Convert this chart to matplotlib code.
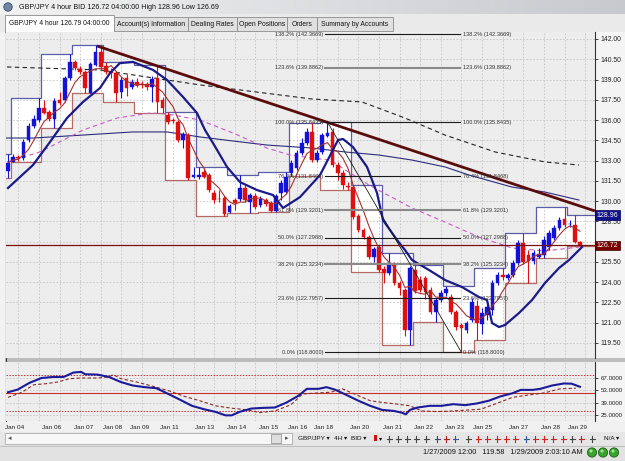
import matplotlib
matplotlib.use("Agg")
import matplotlib.pyplot as plt
import numpy as np
import pandas as pd
from matplotlib.patches import Rectangle, Circle

W, H = 625, 461
plt.rcParams['font.family'] = ['Liberation Sans', 'DejaVu Sans']

# ---------------- data ----------------
opens = [132.23, 132.90, 133.27, 133.19, 134.52, 135.56, 136.00, 136.89, 136.60, 136.08,
         137.48, 137.48, 139.11, 140.30, 139.78, 139.56, 138.00, 140.08, 141.04, 140.00,
         139.56, 139.48, 138.08, 139.11, 138.45, 138.82, 138.67, 138.67, 138.45, 139.11,
         137.48, 136.37, 136.00, 135.86, 134.52, 134.89, 131.79, 131.79, 132.16, 131.93,
         130.60, 130.16, 130.23, 129.20, 130.08, 130.16, 130.97, 129.93, 130.38, 129.71,
         130.08, 129.86, 129.25, 130.60, 130.67, 132.08, 132.45, 133.56, 134.30, 135.12,
         133.04, 133.64, 134.82, 135.12, 132.67, 132.08, 131.12, 131.05, 128.90, 127.86,
         127.34, 125.86, 126.60, 124.97, 124.68, 125.35, 123.94, 123.42, 120.46, 124.90,
         124.16, 124.31, 123.42, 121.79, 122.68, 123.20, 122.90, 121.79, 120.83, 120.46,
         121.20, 122.24, 120.90, 121.57, 121.94, 123.94, 124.53, 124.31, 124.53, 125.42,
         126.90, 126.01, 125.57, 125.86, 126.01, 126.60, 127.27, 128.01, 128.68, 128.27,
         128.23, 126.97]
closes = [132.82, 133.27, 133.19, 134.38, 135.56, 136.08, 136.89, 136.52, 136.08, 137.41,
          137.26, 139.11, 140.30, 139.85, 139.56, 138.37, 140.15, 141.04, 139.93, 139.56,
          139.48, 138.00, 138.97, 138.37, 138.82, 138.60, 138.60, 138.45, 139.04, 137.34,
          136.89, 135.86, 135.93, 134.52, 134.97, 131.71, 131.93, 131.93, 131.79, 130.82,
          130.08, 130.12, 129.05, 129.64, 129.86, 130.97, 130.08, 130.45, 129.56, 130.16,
          129.79, 129.25, 130.38, 131.34, 131.79, 132.82, 133.56, 134.30, 135.12, 133.04,
          133.56, 134.89, 135.04, 132.67, 132.08, 131.19, 131.08, 128.82, 127.86, 127.34,
          125.86, 126.46, 124.90, 124.68, 125.42, 123.94, 123.57, 120.46, 125.05, 123.35,
          123.42, 123.27, 121.79, 122.68, 123.20, 123.50, 121.79, 120.68, 120.61, 120.98,
          122.53, 120.98, 121.72, 122.16, 123.94, 124.53, 124.38, 124.53, 125.42, 126.90,
          125.49, 125.57, 126.16, 126.09, 127.12, 127.64, 128.01, 128.60, 128.23, 128.34,
          126.97, 126.72]
highs = [133.50, 133.49, 133.41, 134.60, 135.78, 136.37, 137.60, 137.48, 136.75, 137.63,
         138.08, 139.26, 140.89, 140.45, 140.00, 139.71, 140.30, 141.56, 141.33, 140.30,
         139.85, 139.63, 139.19, 139.41, 139.04, 139.11, 138.89, 138.82, 139.26, 140.10,
         137.71, 136.60, 136.15, 136.00, 135.12, 135.04, 132.53, 132.53, 132.45, 132.08,
         130.82, 130.82, 130.38, 129.79, 130.23, 131.93, 131.19, 130.60, 130.60, 130.38,
         130.23, 130.00, 130.53, 131.56, 132.15, 133.04, 133.78, 134.67, 135.41, 135.78,
         133.78, 135.04, 135.84, 135.41, 132.90, 132.30, 131.42, 131.19, 129.05, 128.01,
         127.49, 126.60, 126.75, 125.20, 126.16, 125.49, 124.09, 123.57, 125.20, 125.27,
         124.46, 124.46, 123.64, 122.83, 123.42, 123.72, 123.12, 121.94, 120.98, 121.13,
         122.83, 122.68, 122.09, 122.38, 124.16, 124.75, 125.05, 124.68, 125.64, 127.12,
         127.64, 126.38, 126.38, 126.53, 127.42, 127.86, 128.23, 128.82, 129.57, 128.60,
         128.96, 127.05]
lows = [131.70, 132.90, 132.97, 133.04, 134.38, 135.41, 135.86, 136.45, 135.93, 135.41,
        137.11, 137.34, 138.97, 139.71, 139.41, 138.00, 138.00, 140.00, 139.78, 139.41,
        139.11, 137.34, 137.63, 137.78, 138.30, 138.45, 138.37, 138.22, 137.34, 136.52,
        136.52, 135.71, 135.78, 134.38, 133.93, 131.56, 131.71, 131.64, 131.71, 130.67,
        129.86, 129.93, 128.90, 129.12, 129.34, 130.00, 129.93, 129.12, 129.42, 129.56,
        129.64, 129.20, 129.20, 130.08, 130.53, 131.86, 132.30, 133.41, 134.15, 132.90,
        132.90, 133.49, 134.75, 132.53, 131.56, 130.90, 130.82, 128.68, 127.71, 127.20,
        125.72, 125.49, 124.75, 123.94, 124.53, 123.79, 123.05, 120.02, 119.35, 123.20,
        123.27, 122.75, 121.64, 121.05, 122.53, 122.98, 121.64, 120.46, 118.80, 120.24,
        121.05, 119.72, 120.16, 121.20, 121.57, 123.79, 124.16, 124.16, 124.38, 125.27,
        125.35, 123.94, 125.35, 125.79, 125.79, 126.38, 127.12, 127.86, 128.08, 128.08,
        126.90, 126.69]

# first candle of every trading day (daily high/low boxes)
day_starts = [0, 1, 7, 13, 19, 25, 31, 37, 43, 49, 55, 61, 67, 73, 79, 85, 91, 97, 103, 109]

# moving averages (candle index, price)
ma_blue_idx = [0, 4.85, 8.15, 11.45, 14.55, 17.85, 19.79, 21.73, 24.26, 28.14, 30.86, 33.96,
               36.68, 38.23, 39.78, 42.5, 45.02, 48.32, 51.43, 53.37, 56.67, 60.55, 64.04,
               65.01, 66.95, 69.67, 71.61, 72.77, 75.49, 77.04, 78.4, 81.7, 84.81, 88.1,
               91.4, 92.96, 93.93, 95.28, 96.45, 99.17, 101.69, 104.21, 106.93, 108.87, 111.39]
ma_blue_val = [130.97, 132.67, 134.38, 136.15, 137.34, 138.37, 139.48, 140.22, 140.30, 139.71,
               138.97, 137.71, 136.52, 135.26, 134.30, 132.53, 131.41, 130.82, 130.45, 129.49,
               130.30, 131.93, 134.52, 134.60, 134.00, 132.53, 130.60, 128.60, 127.12, 126.38,
               125.64, 124.90, 124.16, 123.64, 122.90, 122.68, 120.98, 120.68, 120.83, 121.72,
               122.68, 123.94, 125.05, 125.64, 126.60]
ma_navy_idx = [-0.58, 4.85, 14.55, 24.26, 30.86, 37.26, 43.66, 50.26, 58.99, 65.4, 72.0,
               78.4, 84.81, 89.46, 97.81, 104.21, 110.81]
ma_navy_val = [134.67, 134.67, 134.89, 135.12, 135.12, 134.75, 134.45, 134.15, 133.93, 133.64,
               133.41, 133.04, 132.53, 131.93, 131.04, 130.67, 130.08]
ma_pink_idx = [-0.19, 6.21, 14.55, 21.15, 27.56, 30.86, 37.26, 43.66, 50.26, 54.73, 58.99,
               62.49, 70.06, 78.4, 84.81, 91.4, 97.81, 104.21, 110.81]
ma_pink_val = [132.90, 133.64, 135.26, 136.15, 136.52, 136.45, 136.00, 135.04, 133.93, 133.41,
               133.19, 133.04, 131.19, 129.49, 128.45, 127.34, 126.53, 126.31, 126.60]
ma_black_idx = [-0.19, 17.85, 37.26, 58.99, 68.7, 77.04, 84.81, 94.51, 104.21, 110.81]
ma_black_val = [139.93, 139.71, 138.60, 137.56, 137.34, 136.15, 134.89, 133.64, 132.90, 132.67]

trend_idx = [17.3, 113.9]
trend_val = [141.48, 129.27]

fib_pct = ['138.2%', '123.6%', '100.0%', '76.4%', '61.8%', '50.0%', '38.2%', '23.6%', '0.0%']
fib_val = [142.3669, 139.8862, 135.8435, 131.8468, 129.3201, 127.2988, 125.3234, 122.7957, 118.8000]

bid_price = 126.72
day_high = 128.96
price_ticks = np.arange(119.5, 142.01, 1.5)

# oscillator (lower pane)
osc_idx = [0, 1.9, 4.2, 6.5, 8.8, 10.8, 12.7, 14.2, 15.0, 17.3, 19.6, 21.9, 24.2, 26.5, 28.8,
           31.1, 33.4, 35.7, 38.0, 40.3, 42.2, 43.4, 44.9, 47.2, 49.5, 51.8, 54.1, 56.4, 58.0,
           60.3, 61.8, 63.4, 65.7, 68.0, 70.3, 72.6, 74.9, 76.4, 77.2, 78.0, 79.5, 81.8, 84.1,
           86.4, 88.7, 91.0, 93.3, 95.6, 97.9, 99.5, 101.8, 103.3, 105.6, 107.9, 109.4, 111.0]
osc_val = [50.8, 53.9, 61.6, 67.0, 68.2, 68.2, 73.2, 73.9, 71.2, 70.9, 68.2, 62.4, 58.5, 56.6,
           55.4, 48.9, 42.3, 35.4, 31.6, 28.5, 24.6, 24.6, 28.5, 32.3, 33.1, 33.5, 39.3, 47.0,
           54.7, 54.7, 56.6, 53.9, 47.7, 41.2, 35.4, 30.8, 29.6, 27.7, 25.8, 30.8, 33.5, 35.4,
           35.4, 37.3, 36.2, 38.1, 41.2, 46.2, 49.7, 53.5, 53.5, 54.7, 58.5, 60.8, 60.5, 57.0]
sig_idx = [0, 2.7, 5.0, 7.3, 9.6, 11.9, 14.2, 17.3, 19.6, 20.4, 21.9, 25.0, 28.0, 31.1, 34.2,
           37.2, 40.3, 43.4, 46.5, 48.8, 51.8, 54.9, 57.2, 60.3, 62.6, 64.9, 67.2, 70.3, 72.6,
           75.6, 78.0, 80.3, 83.3, 86.4, 89.5, 91.8, 94.8, 97.9, 101.0, 104.1, 107.1, 110.2]
sig_val = [45.0, 50.8, 59.3, 60.5, 62.4, 66.2, 67.0, 67.0, 68.2, 70.9, 66.2, 62.4, 57.8, 52.7,
           46.2, 41.2, 35.4, 32.7, 30.8, 27.7, 29.6, 36.6, 48.9, 50.1, 50.8, 54.7, 48.9, 41.2,
           39.3, 37.3, 35.4, 29.6, 28.9, 29.6, 30.8, 31.6, 38.1, 45.0, 47.7, 50.1, 54.7, 55.4]
osc_levels = [70, 50, 30]
osc_ticks = [25, 39, 53, 67]

date_labels = ['Jan 04', 'Jan 06', 'Jan 07', 'Jan 08', 'Jan 09', 'Jan 11', 'Jan 13', 'Jan 14',
               'Jan 15', 'Jan 16', 'Jan 18', 'Jan 20', 'Jan 21', 'Jan 22', 'Jan 23', 'Jan 25',
               'Jan 27', 'Jan 28', 'Jan 29']
date_pos = [1.2, 8.5, 14.7, 20.2, 25.6, 31.4, 38.2, 44.4, 50.5, 56.3, 61.3, 68.3, 74.7, 80.7,
            86.7, 92.0, 99.0, 105.2, 110.6]
grid_idx = [2, 6, 10, 14, 18, 22, 26, 32, 36, 40, 44, 48, 52, 56, 60, 64, 68, 72, 76, 80, 84,
            88, 92, 96, 100, 104, 108, 112]

# ---------------- figure ----------------
fig = plt.figure(figsize=(W / 100, H / 100), dpi=100)


def rect(x0, y0, x1, y1):
    return [x0 / W, 1 - y1 / H, (x1 - x0) / W, (y1 - y0) / H]


bg = fig.add_axes([0, 0, 1, 1])
bg.set_xlim(0, W)
bg.set_ylim(H, 0)
bg.axis('off')
bg.add_patch(Rectangle((0, 0), W, H, fc='#ececec', ec='none'))

# title bar
grad = np.linspace(0, 1, 200)[None, :]
bg.imshow(np.dstack([0.95 - 0.17 * grad, 0.95 - 0.16 * grad, 0.95 - 0.14 * grad]),
          extent=(0, W, 14, 0), aspect='auto', zorder=1)
bg.add_patch(Circle((8, 7), 4.2, fc='#6f86a8', ec='#3a4c66', lw=0.6, zorder=2))
bg.text(19, 7.5, 'GBP/JPY 4 hour BID 126.72 04:00:00 High 128.96 Low 126.69',
        fontsize=5.1, va='center', ha='left', color='#111111', zorder=3)

# tab row
bg.add_patch(Rectangle((0, 14), W, 18, fc='#eaeaea', ec='none', zorder=1))
tabs = [('Account(s) Information', 114, 188), ('Dealing Rates', 188, 237),
        ('Open Positions', 237, 287), ('Orders', 287, 317), ('Summary by Accounts', 317, 393)]
for name, x0, x1 in tabs:
    bg.add_patch(Rectangle((x0, 17), x1 - x0, 14.5, fc='#e0e0e0', ec='#8c8c8c', lw=0.6, zorder=2))
    bg.text((x0 + x1) / 2, 24.5, name, fontsize=4.9, ha='center', va='center', color='#111111', zorder=3)
bg.add_patch(Rectangle((5, 15), 109, 17, fc='white', ec='#8c8c8c', lw=0.6, zorder=2))
bg.text(9, 23.5, 'GBP/JPY 4 hour 126.79 04:00:00', fontsize=4.9, ha='left', va='center',
        color='#111111', zorder=3)

# left frame line and splitter
bg.add_patch(Rectangle((0, 32), 5, 390, fc='#f2f2f2', ec='none', zorder=1))
bg.plot([5.5, 5.5], [32, 421], color='#3c3c3c', lw=0.8, zorder=2)
bg.add_patch(Rectangle((5, 358), 620, 4, fc='#bdbdbd', ec='none', zorder=1))
bg.add_patch(Rectangle((595, 32), 30, 326, fc='#f4f4f4', ec='none', zorder=1))
bg.add_patch(Rectangle((595, 362), 30, 59, fc='#f4f4f4', ec='none', zorder=1))

# x-label row, toolbar, status bar
bg.add_patch(Rectangle((5, 421), 620, 11, fc='#f0f0f0', ec='none', zorder=1))
bg.add_patch(Rectangle((0, 432), W, 13, fc='#e6e6e6', ec='none', zorder=1))
bg.add_patch(Rectangle((5, 433), 287, 11, fc='#f7f7f7', ec='#a0a0a0', lw=0.5, zorder=2))
bg.text(10, 438.5, '◂', fontsize=5, ha='center', va='center', color='#555555', zorder=3)
bg.add_patch(Rectangle((271, 434), 10, 9, fc='#dedede', ec='#8a8a8a', lw=0.5, zorder=3))
bg.text(287, 438.5, '▸', fontsize=5, ha='center', va='center', color='#555555', zorder=3)
tool = [('GBP/JPY ▾', 298), ('4H ▾', 334), ('BID ▾', 351)]
for t, x in tool:
    bg.text(x, 438.5, t, fontsize=4.6, ha='left', va='center', color='#111111', zorder=3)
bg.add_patch(Rectangle((374, 434.5), 2.5, 6, fc='#d01010', ec='none', zorder=3))
bg.text(379, 438.5, '▾', fontsize=4.6, ha='left', va='center', color='#111111', zorder=3)
icon_x = [389, 398, 407, 416, 426, 437, 446, 455, 468, 478, 487, 497, 506, 515, 526, 535, 544,
          553, 563, 572, 581, 592]
icon_c = ['#444444', '#444444', '#444444', '#444444', '#444444', '#444466', '#aa2222', '#335599',
          '#444444', '#cc2222', '#cc2222', '#cc2222', '#cc2222', '#cc2222', '#335599', '#cc2222',
          '#cc2222', '#cc2222', '#cc2222', '#444444', '#cc2222', '#444444']
for x, c in zip(icon_x, icon_c):
    bg.plot([x - 2.5, x + 2.5], [438.5, 438.5], color=c, lw=0.8, zorder=3)
    bg.plot([x, x], [435.5, 441.5], color=c, lw=0.8, zorder=3)
bg.text(604, 438.5, 'N/A ▾', fontsize=4.6, ha='left', va='center', color='#111111', zorder=3)
bg.add_patch(Rectangle((0, 445), W, 16, fc='#e2e2e2', ec='none', zorder=1))
bg.plot([0, W], [445.5, 445.5], color='#b0b0b0', lw=0.5, zorder=2)
bg.text(583, 452.5, '1/27/2009 12:00   119.58   1/29/2009 2:03:10 AM', fontsize=5.3,
        ha='right', va='center', color='#111111', zorder=3)
for x in (592, 603, 614):
    bg.add_patch(Circle((x, 452.5), 4.6, fc='#3aa52e', ec='#1d5a18', lw=0.6, zorder=3))
    bg.add_patch(Circle((x - 1, 451), 1.6, fc='#9be58f', ec='none', zorder=4))

# ---------------- main price pane ----------------
ax = fig.add_axes(rect(6, 32, 595, 358))
ax.set_facecolor('#ededed')
xmin, xmax = (6 - 8) / 5.153, (595 - 8) / 5.153
ax.set_xlim(xmin, xmax)
ax.set_ylim(118.388, 142.518)

o = np.array(opens); c = np.array(closes); hi = np.array(highs); lo = np.array(lows)
idx = np.arange(len(o))

# daily boxes
starts = list(day_starts)
ends = starts[1:] + [len(o)]
edges, box_hi, box_lo = [], [], []
for k, (s, e) in enumerate(zip(starts, ends)):
    x0 = xmin if k == 0 else s - 0.5
    x1 = xmax if k == len(starts) - 1 else e - 0.5
    h_, l_ = hi[s:e].max(), lo[s:e].min()
    ax.add_patch(Rectangle((x0, l_), x1 - x0, h_ - l_, fc='white', ec='none', zorder=0.5))
    edges.append(x0); box_hi.append(h_); box_lo.append(l_)
edges.append(xmax)
ax.step(edges, box_hi + [box_hi[-1]], where='post', color='#5c5ca8', lw=0.9, zorder=2)
ax.step(edges, box_lo + [box_lo[-1]], where='post', color='#b46a64', lw=0.9, zorder=2)

# grid
for g in grid_idx:
    ax.axvline(g, color='#c4c4c4', lw=0.6, ls=(0, (2, 2)), zorder=1)
for t in price_ticks:
    ax.axhline(t, color='#c4c4c4', lw=0.6, ls=(0, (2, 2)), zorder=1)

# moving averages
ax.plot(ma_black_idx, ma_black_val, color='#222222', lw=0.8, ls=(0, (4, 3)), zorder=2.5)
ax.plot(ma_navy_idx, ma_navy_val, color='#2c2c7c', lw=0.8, zorder=2.5)
ax.plot(ma_pink_idx, ma_pink_val, color='#c85ac8', lw=0.8, ls=(0, (4, 3)), zorder=2.5)

# candles
up = c >= o
col = np.where(up, '#1212d8', '#e01010')
ax.vlines(idx, lo, hi, colors=col, lw=0.8, zorder=3)
body_lo = np.minimum(o, c)
body_h = np.maximum(np.abs(c - o), 0.05)
ax.bar(idx, body_h, bottom=body_lo, width=0.72, color=col, edgecolor=col, lw=0.3, zorder=3.2)

# fast moving average of closes
fast_ma = pd.Series(closes).rolling(5, min_periods=1).mean()
ax.plot(idx, fast_ma, color='#a83030', lw=0.8, zorder=3.5)
ax.plot(ma_blue_idx, ma_blue_val, color='#1a1a8a', lw=1.6, zorder=3.6)

# trend line
ax.plot(trend_idx, trend_val, color='#5a0c0c', lw=2.0, zorder=4, solid_capstyle='butt')

# fibonacci
fx0, fx1 = 61.5, 87.7
for p, v in zip(fib_pct, fib_val):
    heavy = p in ('123.6%', '61.8%', '38.2%')
    ax.plot([fx0, fx1], [v, v], color='#8a8a8a' if heavy else '#1a1a1a', lw=1.5 if heavy else 0.8,
            zorder=4)
    lab = f'{p} ({v:.4f})'
    ax.text(fx0 - 0.3, v, lab, fontsize=4.1, ha='right', va='center', color='#333333', zorder=4.5)
    ax.text(fx1 + 0.6, v, lab, fontsize=4.1, ha='left', va='center', color='#333333', zorder=4.5)
ax.plot([62, 88], [fib_val[2], fib_val[-1]], color='#1a1a1a', lw=0.6, zorder=4)

# bid line
ax.axhline(bid_price, color='#7a0f0f', lw=0.9, zorder=4)

# axis styling (the 127.00 label sits under the bid-price box, as in the original)
ax.set_xticks([])
ax.yaxis.tick_right()
ax.set_yticks(price_ticks)
ax.set_yticklabels(['' if abs(t - 127.0) < 0.01 else f'{t:.2f}' for t in price_ticks])
ax.tick_params(axis='y', direction='out', length=2.5, width=0.6, pad=1.5, labelsize=4.9,
               colors='#222222')
for s in ('top', 'left', 'bottom'):
    ax.spines[s].set_visible(False)
ax.spines['right'].set_color('#333333')
ax.spines['right'].set_linewidth(0.8)
ytr = ax.get_yaxis_transform()
ax.text(1.003, day_high, '128.96', transform=ytr, fontsize=5.0, color='white', ha='left',
        va='center', zorder=6, clip_on=False,
        bbox=dict(boxstyle='square,pad=0.2', fc='#12128a', ec='#000050', lw=0.5))
ax.text(1.003, bid_price, '126.72', transform=ytr, fontsize=5.0, color='white', ha='left',
        va='center', zorder=6, clip_on=False,
        bbox=dict(boxstyle='square,pad=0.2', fc='#7a0000', ec='#3a0000', lw=0.5))

# ---------------- oscillator pane ----------------
ax2 = fig.add_axes(rect(6, 362, 595, 421))
ax2.set_facecolor('#ededed')
ax2.set_xlim(xmin, xmax)
ax2.set_ylim(18.19, 85.16)
for g in grid_idx:
    ax2.axvline(g, color='#c4c4c4', lw=0.6, ls=(0, (2, 2)), zorder=1)
for t in osc_ticks:
    ax2.axhline(t, color='#c4c4c4', lw=0.6, ls=(0, (2, 2)), zorder=1)
ax2.axhline(osc_levels[0], color='#c83030', lw=0.7, ls=(0, (1.5, 1.5)), zorder=2)
ax2.axhline(osc_levels[1], color='#c83030', lw=0.8, zorder=2)
ax2.axhline(osc_levels[2], color='#c83030', lw=0.7, ls=(0, (1.5, 1.5)), zorder=2)
ax2.plot(sig_idx, sig_val, color='#8a2a2a', lw=0.8, ls=(0, (3, 2)), zorder=3)
ax2.plot(osc_idx, osc_val, color='#1a1a9a', lw=1.5, zorder=4)
ax2.yaxis.tick_right()
ax2.set_yticks(osc_ticks)
ax2.set_yticklabels([f'{t:.4f}' for t in osc_ticks])
ax2.tick_params(axis='y', direction='out', length=2.5, width=0.6, pad=1.5, labelsize=4.4,
                colors='#222222')
ax2.set_xticks(date_pos)
ax2.set_xticklabels(date_labels)
ax2.tick_params(axis='x', length=0, pad=3, labelsize=4.6, colors='#222222')
for s in ('top', 'left', 'bottom'):
    ax2.spines[s].set_visible(False)
ax2.spines['right'].set_color('#333333')
ax2.spines['right'].set_linewidth(0.8)

fig.savefig('out.png', dpi=100)
